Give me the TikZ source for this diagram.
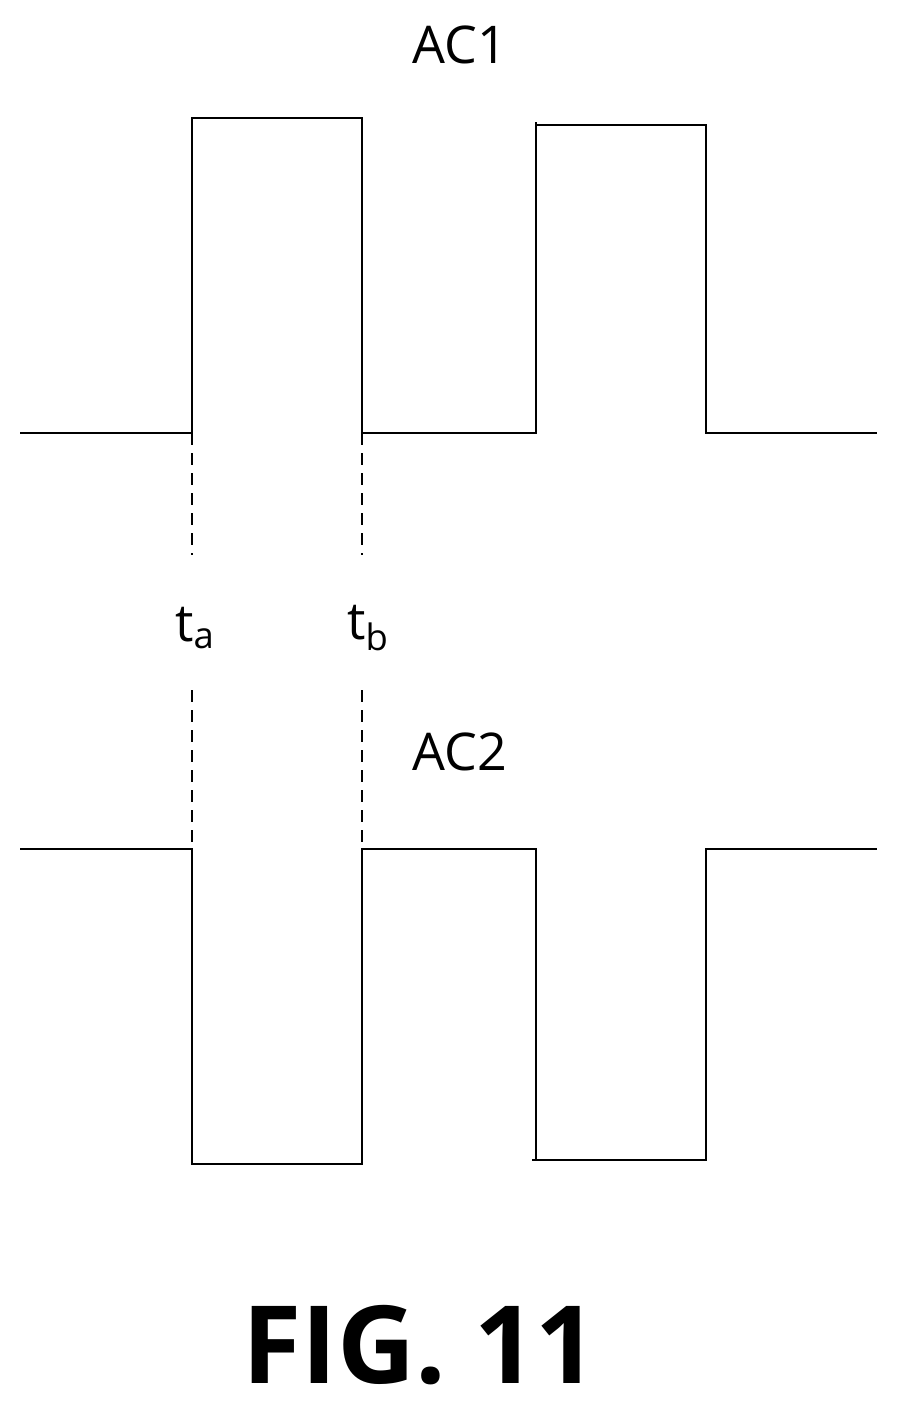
\documentclass[tikz,border=0pt]{standalone}
\usepackage{fontspec}
\setmainfont{Open Sans}
\begin{document}
\begin{tikzpicture}[x=0.5pt,y=-0.5pt,line width=1.1pt,
  wave/.style={line join=miter},
  guide/.style={dash pattern=on 6pt off 4pt},
  lbl/.style={font=\fontsize{26}{30}\selectfont}]
\useasboundingbox (0,0) rectangle (897,1409);
\coordinate (a0) at (20,433);
\coordinate (a1) at (877,433);
\draw[wave] (a0) -- (192,433) -- (192,118) -- (362,118) -- (362,433) -- (532,433) -- (536,433) -- (536,125) -- (706,125) -- (706,433) -- (a1);
\draw (536,122) -- (536,125);
\coordinate (b0) at (20,849);
\coordinate (b1) at (877,849);
\draw[wave] (b0) -- (192,849) -- (192,1164) -- (362,1164) -- (362,849) -- (536,849) -- (536,1160) -- (706,1160) -- (706,849) -- (b1);
\draw (532,1160) -- (536,1160);
\draw[guide] (192,433) -- (192,555);
\draw[guide] (362,433) -- (362,555);
\draw[guide] (192,690) -- (192,849);
\draw[guide] (362,690) -- (362,849);
\node[lbl] (ac1) at (460,45) {AC1};
\node[lbl] (ta) at (195,628) {t\textsubscript{a}};
\node[lbl] (tb) at (368,628) {t\textsubscript{b}};
\node[lbl] (ac2) at (460,752) {AC2};
\node[font=\bfseries\fontsize{54}{58}\selectfont] (fig) at (420,1345) {FIG. 11};
\end{tikzpicture}
\end{document}
